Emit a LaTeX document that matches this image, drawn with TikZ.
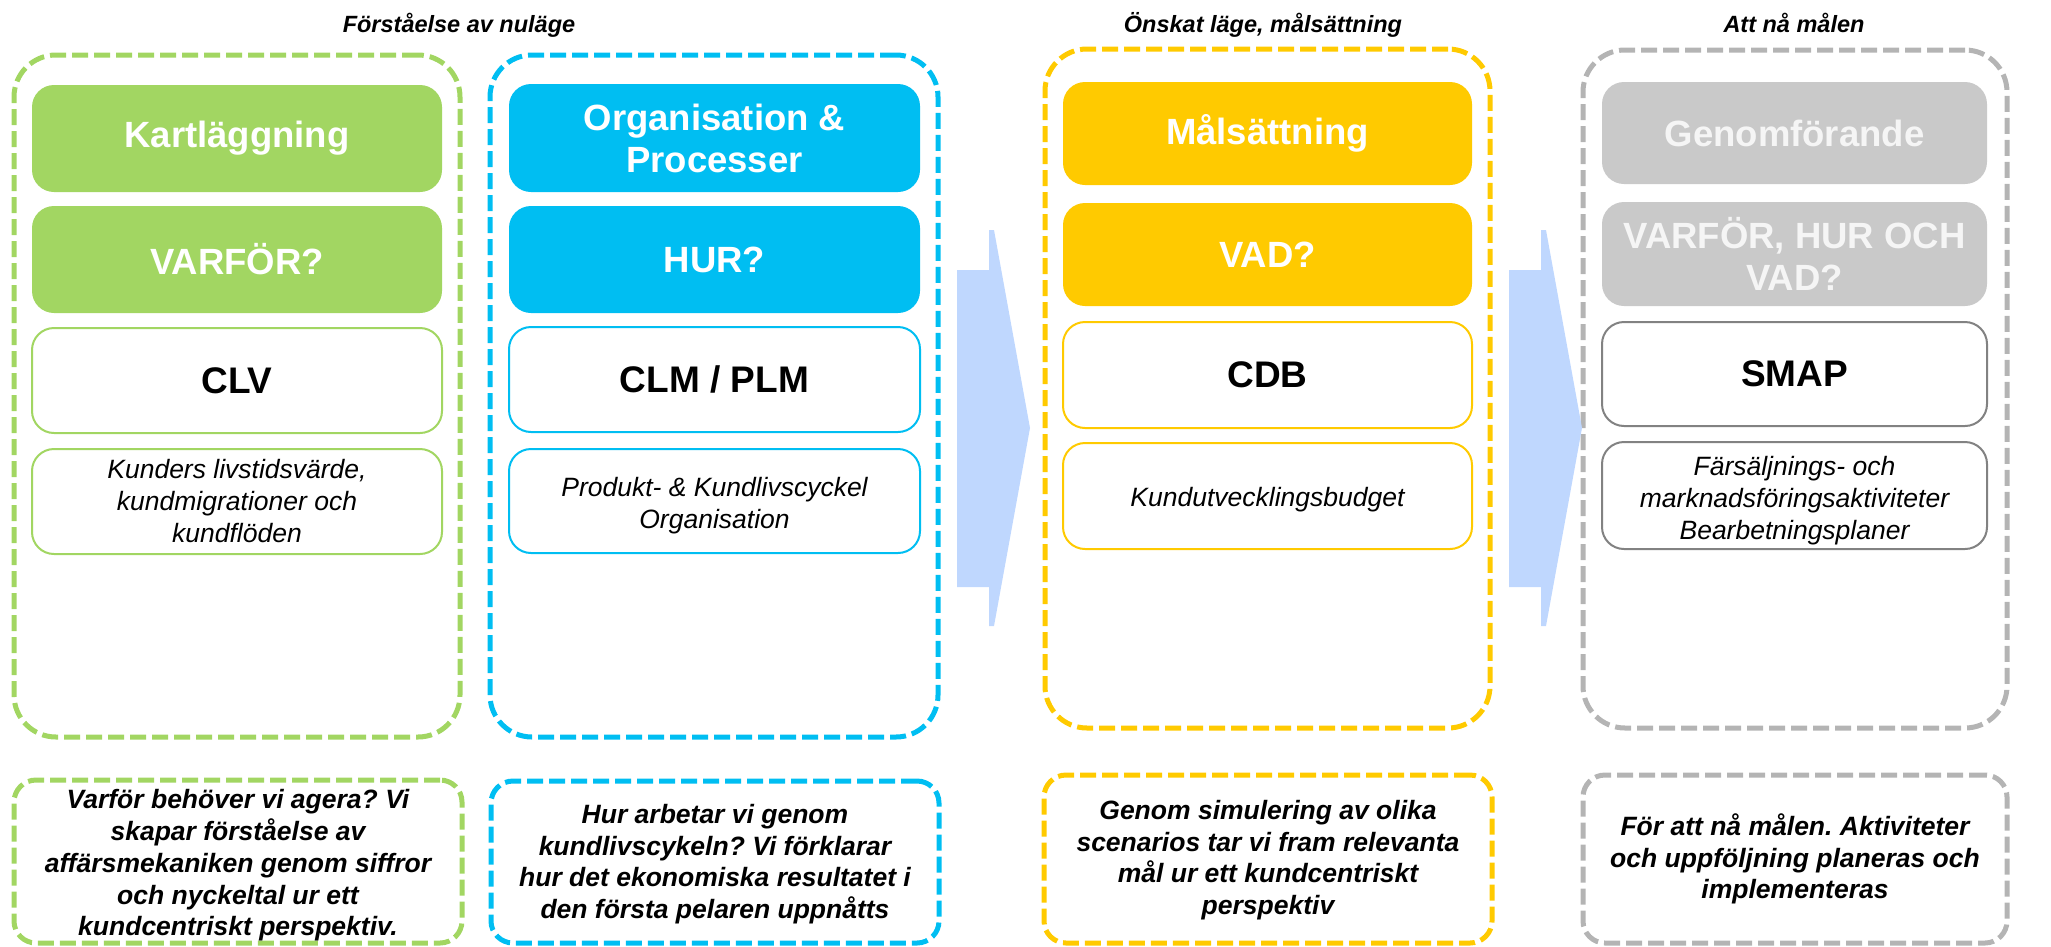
\documentclass[tikz,border=0pt]{standalone}
\usepackage{fontspec}
\setmainfont{Liberation Sans}
\frenchspacing
\definecolor{cgreen}{RGB}{162,214,98}
\definecolor{cblue}{RGB}{0,190,242}
\definecolor{cyellow}{RGB}{255,202,0}
\definecolor{cgray}{RGB}{201,201,201}
\definecolor{cgraydash}{RGB}{180,180,180}
\definecolor{cgrayline}{RGB}{130,130,130}
\definecolor{carrow}{RGB}{191,215,254}
\definecolor{cgraytext}{RGB}{245,245,245}
\tikzset{
 outerbox/.style={draw=#1, line width=5pt, dash pattern=on 16pt off 6pt, rounded corners=42pt, inner sep=0pt},
 notebox/.style={draw=#1, line width=5pt, dash pattern=on 16pt off 6pt, rounded corners=22pt, inner sep=0pt},
 notetext/.style={inner sep=0pt, align=center, font=\fontsize{26.5}{31.7}\selectfont\bfseries\itshape},
 headbox/.style={fill=#1, rounded corners=22pt, inner sep=0pt, text=white, align=center, font=\fontsize{36.5}{42}\selectfont\bfseries},
 keybox/.style={draw=#1, line width=2pt, fill=white, rounded corners=22pt, inner sep=0pt, align=center, font=\fontsize{37}{42}\selectfont\bfseries},
 descbox/.style={draw=#1, line width=2pt, fill=white, rounded corners=22pt, inner sep=0pt},
 desctext/.style={inner sep=0pt, align=center, font=\fontsize{26.5}{32}\selectfont\itshape},
 titletext/.style={font=\fontsize{23.5}{28}\selectfont\bfseries\itshape, inner sep=0pt, anchor=base},
 flow/.style={fill=carrow}
}
\begin{document}
\begin{tikzpicture}[x=1pt,y=-1pt]
\useasboundingbox (0,0) rectangle (2051,946);

% titles
\node[titletext] (t1) at (459,32) {Förståelse av nuläge};
\node[titletext] (t2) at (1263,32) {Önskat läge, målsättning};
\node[titletext] (t3) at (1794,32) {Att nå målen};

% outer dashed columns
\node[outerbox=cgreen, minimum width=446pt, minimum height=682pt] (gout) at (237,396) {};
\node[outerbox=cblue, minimum width=448pt, minimum height=682pt] (bout) at (714,396) {};
\node[outerbox=cyellow, minimum width=445pt, minimum height=679pt] (yout) at (1267.5,388.5) {};
\node[outerbox=cgraydash, minimum width=424pt, minimum height=678pt] (rout) at (1795,389) {};

% green column
\node[headbox=cgreen, minimum width=410pt, minimum height=107pt] (g1) at (237,138.5) {Kartläggning};
\node[headbox=cgreen, minimum width=410pt, minimum height=107pt] (g2) at (237,259.5) {VARFÖR?};
\node[keybox=cgreen, minimum width=410pt, minimum height=105pt] (g3) at (237,380.5) {CLV};
\node[descbox=cgreen, minimum width=410pt, minimum height=105pt] (g4) at (237,501.5) {};
\node[desctext] (g4t) at (g4.center) {Kunders livstidsvärde,\\kundmigrationer och\\kundflöden};

% blue column
\node[headbox=cblue, minimum width=411pt, minimum height=108pt] (b1) at (714.5,138) {Organisation \&\\Processer};
\node[headbox=cblue, minimum width=411pt, minimum height=107pt] (b2) at (714.5,259.5) {HUR?};
\node[keybox=cblue, minimum width=411pt, minimum height=105pt] (b3) at (714.5,379.5) {CLM / PLM};
\node[descbox=cblue, minimum width=411pt, minimum height=104pt] (b4) at (714.5,501) {};
\node[desctext, yshift=-5pt] (b4t) at (b4.center) {Produkt- \& Kundlivscyckel\\Organisation};

% yellow column
\node[headbox=cyellow, minimum width=409pt, minimum height=103pt] (y1) at (1267.5,133.5) {Målsättning};
\node[headbox=cyellow, minimum width=409pt, minimum height=103pt] (y2) at (1267.5,254.5) {VAD?};
\node[keybox=cyellow, minimum width=409pt, minimum height=106pt] (y3) at (1267.5,375) {CDB};
\node[descbox=cyellow, minimum width=409pt, minimum height=106pt] (y4) at (1267.5,496) {};
\node[desctext, yshift=-4pt] (y4t) at (y4.center) {Kundutvecklingsbudget};

% gray column
\node[headbox=cgray, text=cgraytext, minimum width=385pt, minimum height=102pt] (r1) at (1794.5,133) {Genomförande};
\node[headbox=cgray, text=cgraytext, minimum width=385pt, minimum height=104pt] (r2) at (1794.5,254) {VARFÖR, HUR OCH\\VAD?};
\node[keybox=cgrayline, minimum width=385pt, minimum height=104pt] (r3) at (1794.5,374) {SMAP};
\node[descbox=cgrayline, minimum width=385pt, minimum height=107pt] (r4) at (1794.5,495.5) {};
\node[desctext, yshift=-5pt] (r4t) at (r4.center) {Färsäljnings- och\\marknadsföringsaktiviteter\\Bearbetningsplaner};

% flow arrows
\fill[flow] (957,270) -- (989,270) -- (989,230) -- (994,230) -- (1030,428) -- (994,626) -- (989,626) -- (989,587) -- (957,587) -- cycle;
\fill[flow] (1509,270) -- (1541,270) -- (1541,230) -- (1546,230) -- (1582,428) -- (1546,626) -- (1541,626) -- (1541,587) -- (1509,587) -- cycle;

% bottom notes
\node[notebox=cgreen, minimum width=448pt, minimum height=163pt] (gn) at (238,861.5) {};
\node[notetext, yshift=-4pt] (gnt) at (gn.center) {Varför behöver vi agera? Vi\\skapar förståelse av\\affärsmekaniken genom siffror\\och nyckeltal ur ett\\kundcentriskt perspektiv.};
\node[notebox=cblue, minimum width=448pt, minimum height=162pt] (bn) at (715,862) {};
\node[notetext, yshift=-2pt] (bnt) at (bn.center) {Hur arbetar vi genom\\kundlivscykeln? Vi förklarar\\hur det ekonomiska resultatet i\\den första pelaren uppnåtts};
\node[notebox=cyellow, minimum width=448pt, minimum height=168pt] (yn) at (1268,859) {};
\node[notetext, yshift=-1pt] (ynt) at (yn.center) {Genom simulering av olika\\scenarios tar vi fram relevanta\\mål ur ett kundcentriskt\\perspektiv};
\node[notebox=cgraydash, minimum width=424pt, minimum height=168pt] (rn) at (1795,859) {};
\node[notetext] (rnt) at (rn.center) {För att nå målen. Aktiviteter\\och uppföljning planeras och\\implementeras};
\end{tikzpicture}
\end{document}
